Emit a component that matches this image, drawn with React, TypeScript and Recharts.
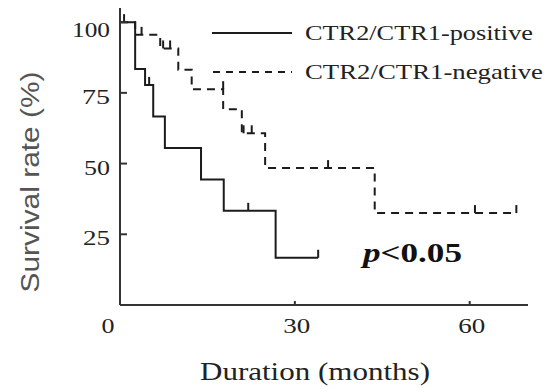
import React from "react";
import {
  ComposedChart,
  Line,
  Scatter,
  XAxis,
  YAxis,
  Customized,
} from "recharts";

// survival curves (months / %)
const posMonths = [0, 2.6, 4.3, 5.7, 7.7, 13.9, 17.8, 26.7, 34];
const posSurvival = [100, 83.4, 77.8, 66.6, 55.5, 44.4, 33.3, 16.7, 16.7];
const negMonths = [0, 2.6, 6.9, 10, 12.3, 17.7, 20.9, 24.9, 43.7, 68];
const negSurvival = [100, 95.5, 90.7, 83.2, 76.3, 69.2, 60.7, 48.4, 32.5, 32.5];

// censored observations
const posCensorMonths = [0.7, 5.0, 22, 34];
const posCensorSurvival = [100, 77.8, 33.3, 16.7];
const negCensorMonths = [3.7, 7.4, 8.6, 17.7, 21.2, 22.6, 35.7, 60.9, 68];
const negCensorSurvival = [95.5, 90.7, 90.7, 76.3, 60.7, 60.7, 48.4, 32.5, 32.5];

const xTicks = [0, 30, 60];
const yTicks = [25, 50, 75, 100];

const seriesNames = ["CTR2/CTR1-positive", "CTR2/CTR1-negative"];

const toPoints = (t: number[], s: number[]) => t.map((v, i) => ({ t: v, s: s[i] }));

const posData = toPoints(posMonths, posSurvival);
const negData = toPoints(negMonths, negSurvival);
const posCensor = toPoints(posCensorMonths, posCensorSurvival);
const negCensor = toPoints(negCensorMonths, negCensorSurvival);

const INK = "#1c1c1c";
const AXIS = "#333";
const SERIF = "Liberation Serif";
const SANS = "Liberation Sans";

const tickWidths: Record<string, number> = { "0": 13, "25": 27, "30": 27, "50": 26, "60": 27, "75": 28, "100": 38 };

const YTick = (props: any) => {
  const { x, y, payload } = props;
  const label = String(payload.value);
  const dy = payload.value === 100 ? 8 : 4;
  return (
    <g>
      <line x1={x} x2={x + 7} y1={y} y2={y} stroke={AXIS} strokeWidth={2} />
      <text
        x={x - 10}
        y={y + dy}
        textAnchor="end"
        dominantBaseline="central"
        style={{ fontFamily: SERIF }}
        fontSize={20}
        fill="#222"
        textLength={tickWidths[label]}
        lengthAdjust="spacingAndGlyphs"
      >
        {label}
      </text>
    </g>
  );
};

const XTick = (props: any) => {
  const { x, y, payload } = props;
  const label = String(payload.value);
  const shift = payload.value === 0 ? -12 : 2;
  return (
    <g>
      {payload.value !== 0 && (
        <line x1={x} x2={x} y1={y} y2={y - 4} stroke={AXIS} strokeWidth={2} />
      )}
      <text
        x={x + shift}
        y={y + 28}
        textAnchor="middle"
        style={{ fontFamily: SERIF }}
        fontSize={20}
        fill="#222"
        textLength={tickWidths[label]}
        lengthAdjust="spacingAndGlyphs"
      >
        {label}
      </text>
    </g>
  );
};

const CensorMark = (props: any) => {
  const { cx, cy } = props;
  return <line x1={cx} x2={cx} y1={cy} y2={cy - 8} stroke={INK} strokeWidth={2} />;
};

// legend, p-value and axis titles
const Annotations = () => (
  <g>
    <line x1={212} x2={292} y1={33} y2={33} stroke={INK} strokeWidth={2} />
    <text x={305} y={40} style={{ fontFamily: SERIF }} fontSize={22} fill="#222" textLength={228} lengthAdjust="spacingAndGlyphs">
      {seriesNames[0]}
    </text>
    <line x1={213} x2={292} y1={72} y2={72} stroke={INK} strokeWidth={2} strokeDasharray="7 6" />
    <text x={305} y={79} style={{ fontFamily: SERIF }} fontSize={22} fill="#222" textLength={238} lengthAdjust="spacingAndGlyphs">
      {seriesNames[1]}
    </text>

    <text x={363} y={262} style={{ fontFamily: SERIF }} fontSize={28} fontWeight="bold" fill="#111" textLength={99} lengthAdjust="spacingAndGlyphs">
      <tspan fontStyle="italic">p</tspan>
      <tspan>{"<0.05"}</tspan>
    </text>

    <text x={315} y={380} textAnchor="middle" style={{ fontFamily: SERIF }} fontSize={25} fill="#222" textLength={230} lengthAdjust="spacingAndGlyphs">
      Duration (months)
    </text>
    <g transform="translate(30 182) scale(1.25 1) rotate(-90)">
      <text
        x={0}
        y={0}
        textAnchor="middle"
        dominantBaseline="central"
        style={{ fontFamily: SANS }}
        fontSize={21}
        fill="#555"
        textLength={221}
        lengthAdjust="spacingAndGlyphs"
      >
        {"Survival rate  (%)"}
      </text>
    </g>
  </g>
);

export default function App() {
  return (
    <div style={{ position: "absolute", left: 0, top: 0, width: 546, height: 389, background: "#fff" }}>
      <ComposedChart width={546} height={389} margin={{ top: 8, right: 18, bottom: 0, left: 0 }}>
        <XAxis
          type="number"
          dataKey="t"
          domain={[0, 70]}
          ticks={xTicks}
          allowDataOverflow
          height={84}
          tickSize={0}
          tickMargin={0}
          tickLine={false}
          axisLine={{ stroke: AXIS, strokeWidth: 2 }}
          tick={<XTick />}
        />
        <YAxis
          type="number"
          dataKey="s"
          domain={[0, 105]}
          ticks={yTicks}
          allowDataOverflow
          width={120}
          tickSize={0}
          tickMargin={0}
          tickLine={false}
          axisLine={{ stroke: AXIS, strokeWidth: 2 }}
          tick={<YTick />}
        />
        <Line
          data={posData}
          dataKey="s"
          type="stepAfter"
          stroke={INK}
          strokeWidth={2}
          dot={false}
          isAnimationActive={false}
        />
        <Line
          data={negData}
          dataKey="s"
          type="stepAfter"
          stroke={INK}
          strokeWidth={2}
          strokeDasharray="8 6"
          dot={false}
          isAnimationActive={false}
        />
        <Scatter data={posCensor} dataKey="s" shape={<CensorMark />} isAnimationActive={false} />
        <Scatter data={negCensor} dataKey="s" shape={<CensorMark />} isAnimationActive={false} />
        <Customized component={Annotations} />
      </ComposedChart>
    </div>
  );
}
